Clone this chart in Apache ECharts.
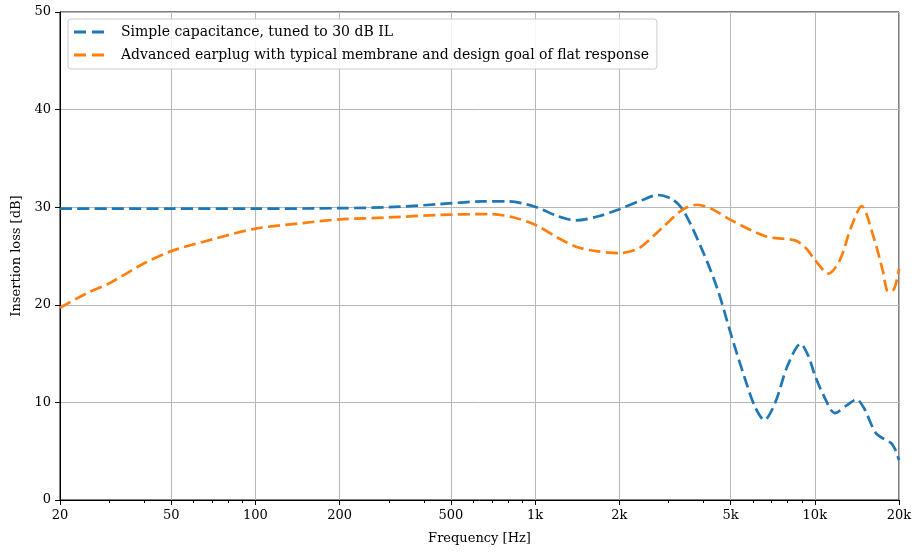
<!DOCTYPE html>
<html>
<head>
<meta charset="utf-8">
<script src="https://cdn.jsdelivr.net/npm/echarts@6/dist/echarts.min.js"></script>
<style>
  html, body { margin: 0; padding: 0; background: #fff; }
  #chart { width: 915px; height: 553px; }
</style>
</head>
<body>
<div id="chart"></div>
<script>
// frequencies [Hz] and insertion loss [dB]
const simpleFreq = [20, 30, 50, 100, 200, 300, 450, 650, 800, 1000, 1200, 1400, 1700, 2000, 2400, 2750, 3100, 3400, 4000, 4500, 5000, 5600, 6100, 6600, 7200, 8000, 8900, 9500, 10000, 10800, 11800, 13000, 14100, 15000, 16600, 18800, 19500, 20000];
const simpleIL = [29.85, 29.85, 29.85, 29.85, 29.9, 30.0, 30.3, 30.6, 30.6, 30.05, 29.1, 28.65, 29.1, 29.8, 30.7, 31.25, 30.8, 29.6, 25.3, 21.5, 17.1, 12.6, 9.6, 8.2, 9.9, 13.8, 16.0, 14.7, 12.8, 10.6, 8.9, 9.7, 10.3, 9.4, 6.8, 5.8, 5.0, 4.1];

const advFreq = [20, 25, 30, 40, 50, 70, 100, 150, 200, 300, 450, 700, 850, 1000, 1200, 1400, 1650, 2000, 2350, 2800, 3350, 3800, 4300, 5000, 6700, 8500, 9300, 10000, 11200, 12300, 13500, 14700, 16200, 17500, 18300, 19200, 20000];
const advIL = [19.7, 21.2, 22.2, 24.25, 25.5, 26.7, 27.8, 28.4, 28.75, 28.95, 29.2, 29.3, 28.9, 28.2, 26.9, 25.95, 25.5, 25.3, 25.8, 27.7, 29.7, 30.25, 29.8, 28.7, 27.0, 26.6, 25.8, 24.6, 23.2, 24.6, 28.0, 30.1, 27.0, 23.5, 21.35, 21.6, 23.7];

const majorTicks = [20, 50, 100, 200, 500, 1000, 2000, 5000, 10000, 20000];
const minorTicks = [30, 40, 60, 70, 80, 90, 300, 400, 600, 700, 800, 900, 3000, 4000, 6000, 7000, 8000, 9000];

const seriesNames = ['Simple capacitance, tuned to 30 dB IL', 'Advanced earplug with typical membrane and design goal of flat response'];

function pairs(xs, ys) {
  let out = [];
  for (let i = 0; i < xs.length; i++) {
    out.push([xs[i], ys[i]]);
  }
  return out;
}

function fmtFreq(v) {
  let r = Math.round(v);
  return r >= 1000 ? (r / 1000) + 'k' : String(r);
}

const font = 'DejaVu Serif';
const dash = [12, 5.3];
// two short dashes for the legend handle
const dashIcon = 'path://M0,0h12v3h-12z M18,0h12v3h-12z';

let option = {
  animation: false,
  color: ['#1f77b4', '#ff7f0e'],
  textStyle: { fontFamily: font },
  grid: {
    left: 60, right: 16, top: 12, bottom: 53,
    show: true,
    borderColor: '#000',
    borderWidth: 1
  },
  legend: {
    orient: 'vertical',
    left: 68,
    top: 19,
    padding: [4, 8, 5, 6],
    itemGap: 5,
    itemWidth: 30,
    itemHeight: 3,
    icon: dashIcon,
    backgroundColor: 'rgba(255,255,255,0.85)',
    borderColor: '#cccccc',
    borderWidth: 1,
    borderRadius: 3,
    textStyle: { fontFamily: font, fontSize: 14, color: '#000', lineHeight: 18, padding: [0, 0, 0, 12] },
    data: seriesNames
  },
  xAxis: [
    {
      type: 'log',
      logBase: 10,
      min: 20,
      max: 20000,
      name: 'Frequency [Hz]',
      nameLocation: 'middle',
      nameGap: 32,
      nameTextStyle: { fontFamily: font, fontSize: 13, color: '#000' },
      axisLine: { lineStyle: { color: '#000', width: 1 } },
      axisTick: { customValues: majorTicks, length: 5, lineStyle: { color: '#000' } },
      axisLabel: { customValues: majorTicks, formatter: fmtFreq, color: '#000', fontSize: 13, fontFamily: font, margin: 9 },
      splitLine: { show: true, lineStyle: { color: '#b8b8b8', width: 1 } }
    },
    {
      type: 'log',
      logBase: 10,
      min: 20,
      max: 20000,
      gridIndex: 0,
      position: 'bottom',
      axisLine: { show: false },
      axisTick: { show: true, customValues: minorTicks, length: 3, lineStyle: { color: '#000', width: 1 } },
      axisLabel: { show: false },
      splitLine: { show: false }
    }
  ],
  yAxis: {
    type: 'value',
    min: 0,
    max: 50,
    interval: 10,
    name: 'Insertion loss [dB]',
    nameLocation: 'middle',
    nameGap: 37,
    nameTextStyle: { fontFamily: font, fontSize: 13, color: '#000' },
    axisLine: { show: true, lineStyle: { color: '#000', width: 1 } },
    axisTick: { show: true, length: 5, lineStyle: { color: '#000' } },
    axisLabel: { color: '#000', fontSize: 13, fontFamily: font, margin: 9 },
    splitLine: { show: true, lineStyle: { color: '#b8b8b8', width: 1 } }
  },
  series: [
    {
      name: seriesNames[0],
      type: 'line',
      xAxisIndex: 0,
      smooth: 0.3,
      symbol: 'none',
      lineStyle: { width: 2.7, type: dash },
      data: pairs(simpleFreq, simpleIL)
    },
    {
      name: seriesNames[1],
      type: 'line',
      xAxisIndex: 0,
      smooth: 0.3,
      symbol: 'none',
      lineStyle: { width: 2.7, type: dash },
      data: pairs(advFreq, advIL)
    }
  ]
};

let myChart = echarts.init(document.getElementById('chart'));
myChart.setOption(option);
</script>
</body>
</html>
